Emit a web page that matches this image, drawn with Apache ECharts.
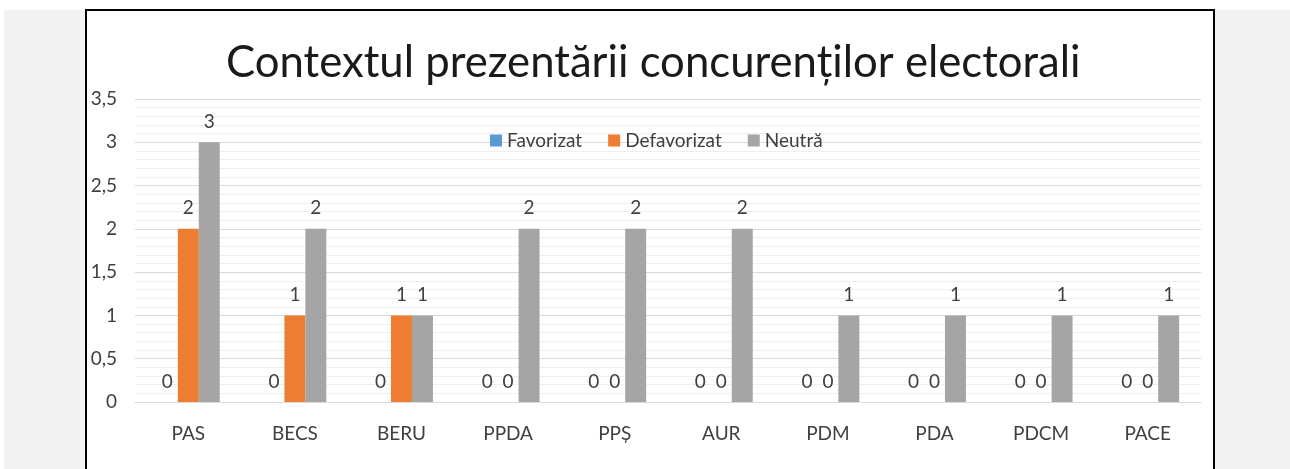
<!DOCTYPE html>
<html>
<head>
<meta charset="utf-8">
<script src="https://cdn.jsdelivr.net/npm/echarts@6/dist/echarts.min.js"></script>
<style>
  html, body { margin: 0; padding: 0; background: #fff; }
  #bg { position: absolute; left: 4px; top: 10px; width: 1286px; height: 459px; background: #f2f2f2; }
  #frame { position: absolute; left: 85px; top: 9px; width: 1126px; height: 470px;
           border: 2px solid #000; border-bottom: none; background: #fff; }
  #chart { position: absolute; left: 0; top: 0; width: 1290px; height: 469px; }
</style>
</head>
<body>
<div id="bg"></div>
<div id="frame"></div>
<div id="chart"></div>
<script>
const categories = ["PAS", "BECS", "BERU", "PPDA", "PPȘ", "AUR", "PDM", "PDA", "PDCM", "PACE"];
const favorizat = [0, 0, 0, 0, 0, 0, 0, 0, 0, 0];
const defavorizat = [2, 1, 1, 0, 0, 0, 0, 0, 0, 0];
const neutra = [3, 2, 1, 2, 2, 2, 1, 1, 1, 1];

const font = "Lato";
const txt = "#404040";

let myChart = echarts.init(document.getElementById("chart"));

function barSeries(name, data, color) {
  return {
    name: name,
    type: "bar",
    data: data,
    barGap: "0%",
    barCategoryGap: "41%",
    itemStyle: { color: color },
    label: {
      show: true,
      position: "top",
      distance: 11,
      color: txt,
      fontFamily: font,
      fontSize: 19,
    },
  };
}

let option = {
  animation: false,
  title: {
    text: "Contextul prezentării concurenților electorali",
    left: 221,
    top: 36,
    textStyle: {
      color: "#1a1a1a",
      fontFamily: font,
      fontWeight: "normal",
      fontSize: 43.7,
    },
  },
  legend: {
    top: 126,
    left: 485,
    itemWidth: 12,
    itemHeight: 12,
    itemGap: 26,
    icon: "rect",
    textStyle: { color: txt, fontFamily: font, fontSize: 19 },
    data: ["Favorizat", "Defavorizat", "Neutră"],
  },
  grid: {
    left: 135,
    right: 89,
    top: 99,
    bottom: 67,
  },
  xAxis: {
    type: "category",
    data: categories,
    axisTick: { show: false },
    axisLine: { show: true, lineStyle: { color: "#d9d9d9", width: 1 } },
    axisLabel: {
      color: txt,
      fontFamily: font,
      fontSize: 19,
      margin: 22,
    },
  },
  yAxis: {
    type: "value",
    min: 0,
    max: 3.5,
    interval: 0.5,
    axisLine: { show: false },
    axisTick: { show: false },
    axisLabel: {
      color: txt,
      fontFamily: font,
      fontSize: 19,
      margin: 18,
      formatter: (v) => String(v).replace(".", ","),
    },
    splitLine: { show: true, lineStyle: { color: "#d9d9d9", width: 1 } },
    minorTick: { show: false, splitNumber: 5 },
    minorSplitLine: { show: true, lineStyle: { color: "#efefef", width: 1 } },
  },
  series: [
    barSeries("Favorizat", favorizat, "#5b9bd5"),
    barSeries("Defavorizat", defavorizat, "#ed7d31"),
    barSeries("Neutră", neutra, "#a5a5a5"),
  ],
};
myChart.setOption(option);
</script>
</body>
</html>
